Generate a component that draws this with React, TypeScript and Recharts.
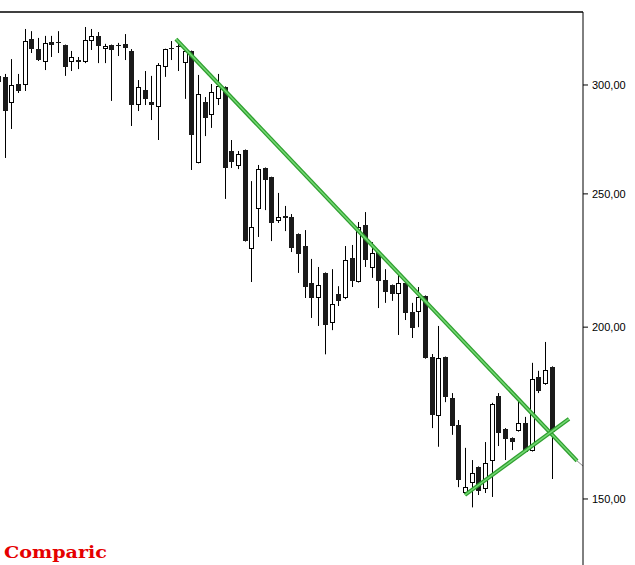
import React from "react";
import { ComposedChart, Bar, XAxis, YAxis, ReferenceLine } from "recharts";

// candle number of the first entry (it is cut off at the left edge)
const firstIndex = -1;

const opens = [
  304.5, 304.1, 291.1, 300.5, 300.0, 324.0, 318.6, 311.7, 322.4, 322.4,
  320.8, 311.7, 312.8, 311.7, 322.9, 325.7, 318.6, 320.8, 320.8, 321.4,
  317.6, 290.1, 297.5, 291.6, 289.1, 309.1, 319.1, 320.3, 311.2, 317.6,
  263.3, 291.6, 285.3, 293.1, 299.0, 268.6, 262.0, 269.1, 227.9, 243.7,
  261.1, 257.1, 238.9, 240.9, 240.5, 233.8, 229.1, 215.3, 210.0, 219.0,
  201.4, 211.4, 210.0, 224.6, 215.7, 237.3, 220.8, 226.8, 216.4, 214.6,
  211.4, 215.3, 205.1, 205.1, 210.7, 190.2, 172.3, 190.2, 177.6, 169.8,
  151.5, 154.0, 158.2, 152.5, 159.8, 178.2, 168.7, 166.1, 168.1, 170.4,
  162.6, 184.0, 181.8, 187.1,
];

const highs = [
  305.5, 305.6, 313.3, 305.6, 329.5, 328.3, 324.6, 325.7, 325.7, 328.3,
  321.0, 317.6, 314.4, 330.6, 329.5, 327.8, 321.4, 321.0, 321.9, 326.7,
  318.6, 302.5, 307.1, 304.6, 311.2, 318.8, 322.9, 321.9, 319.1, 317.8,
  305.1, 294.0, 300.5, 305.6, 299.3, 273.6, 268.6, 269.3, 255.4, 262.4,
  261.3, 257.3, 250.4, 245.0, 241.7, 234.0, 235.3, 224.2, 221.2, 219.2,
  220.4, 214.2, 229.1, 229.5, 238.5, 242.5, 230.6, 227.0, 220.4, 214.8,
  218.3, 215.5, 208.3, 213.9, 210.9, 191.2, 200.4, 190.4, 179.1, 171.2,
  163.4, 160.1, 158.4, 165.0, 176.2, 179.1, 168.9, 166.3, 176.7, 172.1,
  188.4, 185.9, 195.1, 187.3,
];

const lows = [
  299.5, 265.5, 278.7, 296.0, 297.0, 316.5, 312.3, 307.6, 314.4, 316.5,
  304.6, 307.1, 308.1, 311.2, 318.1, 311.2, 311.2, 292.1, 314.9, 312.8,
  280.1, 287.2, 290.1, 282.9, 273.6, 304.1, 312.8, 307.1, 293.1, 260.2,
  263.1, 275.4, 279.2, 290.1, 247.9, 261.1, 260.6, 230.8, 215.7, 232.6,
  243.3, 231.0, 238.1, 234.9, 226.8, 219.0, 210.0, 203.1, 200.4, 191.1,
  199.0, 207.2, 209.6, 213.9, 215.5, 221.2, 217.2, 206.5, 208.3, 209.0,
  197.4, 202.4, 196.4, 200.0, 189.7, 168.9, 163.7, 176.4, 167.0, 153.0,
  151.3, 147.9, 151.0, 151.5, 150.5, 163.9, 160.1, 162.8, 167.9, 162.1,
  162.4, 179.1, 181.6, 155.1,
];

const closes = [
  301.5, 287.2, 300.0, 297.0, 322.9, 318.6, 312.8, 321.9, 320.8, 322.2,
  309.1, 314.4, 311.7, 323.5, 325.7, 320.3, 320.3, 318.1, 320.6, 319.1,
  290.1, 299.0, 293.1, 290.1, 310.2, 318.6, 318.6, 320.1, 317.6, 275.9,
  295.5, 283.8, 296.5, 299.5, 261.1, 263.7, 267.2, 231.0, 236.5, 260.6,
  255.9, 238.1, 240.5, 240.1, 228.4, 226.1, 213.9, 210.0, 214.6, 200.7,
  207.9, 209.0, 223.8, 216.1, 236.5, 223.8, 226.4, 216.1, 212.1, 211.4,
  215.3, 204.8, 199.7, 210.4, 189.9, 172.6, 189.9, 177.9, 169.5, 154.8,
  153.0, 156.6, 152.0, 159.3, 175.9, 167.5, 165.9, 165.0, 170.4, 162.3,
  183.4, 179.7, 186.2, 167.8,
];

const yTicks = [150, 200, 250, 300];
const yMin = 134.3;
const yMax = 339.0;

// hand drawn trend lines (candle number, price)
const downTrend = [{ x: 25.7, y: 324.0 }, { x: 85.83, y: 159.9 }];
const downTrendTail = [{ x: 85.83, y: 159.9 }, { x: 86.73, y: 158.5 }];
const upTrend = [{ x: 69.03, y: 151.0 }, { x: 84.63, y: 171.5 }];

const data = opens.map((open, i) => ({
  idx: i + firstIndex,
  open,
  high: highs[i],
  low: lows[i],
  close: closes[i],
  range: [lows[i], highs[i]],
}));

function Candle(props: any) {
  const { x, y, width, height, payload } = props;
  const { open, high, low, close } = payload;
  const top = Math.min(y, y + height);
  const span = Math.abs(height);
  // bar spans low..high on the log axis, so place open/close in log space
  const k = span / (Math.log(high) - Math.log(low));
  const py = (v: number) => top + (Math.log(high) - Math.log(v)) * k;
  const cx = Math.round(x + width / 2);
  const up = close > open;
  const bTop = Math.round(py(Math.max(open, close)));
  const bBot = Math.round(py(Math.min(open, close)));
  const h = Math.max(bBot - bTop, 1);
  return (
    <g>
      <line x1={cx + 0.5} x2={cx + 0.5} y1={top} y2={top + span} stroke="#000" strokeWidth={1} />
      {up ? (
        <rect x={cx - 1.5} y={bTop + 0.5} width={4} height={Math.max(h - 1, 0)} fill="#fff" stroke="#000" strokeWidth={1} />
      ) : (
        <rect x={cx - 2} y={bTop} width={5} height={h} fill="#1a1a1a" />
      )}
    </g>
  );
}

const fmt = (v: number) => v.toFixed(2).replace(".", ",");

export default function App() {
  return (
    <div style={{ position: "absolute", left: 0, top: 0, width: 635, height: 565, background: "#fff" }}>
      <ComposedChart width={635} height={565} data={data} margin={{ top: 12, right: 0, left: 0, bottom: 0 }}>
        <XAxis dataKey="idx" type="number" domain={[-0.675, 86.73]} allowDataOverflow hide />
        <YAxis
          orientation="right"
          scale="log"
          domain={[yMin, yMax]}
          allowDataOverflow
          ticks={yTicks}
          tickFormatter={fmt}
          width={52}
          tickSize={5}
          tickMargin={4}
          stroke="#000"
          axisLine={{ stroke: "#000" }}
          tickLine={{ stroke: "#000" }}
          tick={{ fill: "#000", fontSize: 11, fontFamily: "Liberation Sans", textAnchor: "start" }}
        />
        <ReferenceLine y={yMax} stroke="#000" strokeWidth={1.5} ifOverflow="visible" />
        <Bar dataKey="range" barSize={5} shape={<Candle />} isAnimationActive={false} />
        <ReferenceLine segment={downTrend} stroke="#2f9f2f" strokeWidth={4} ifOverflow="visible" />
        <ReferenceLine segment={downTrend} stroke="#74d774" strokeWidth={1.5} ifOverflow="visible" />
        <ReferenceLine segment={downTrendTail} stroke="#888" strokeWidth={1} ifOverflow="visible" />
        <ReferenceLine segment={upTrend} stroke="#2f9f2f" strokeWidth={4} ifOverflow="visible" />
        <ReferenceLine segment={upTrend} stroke="#74d774" strokeWidth={1.5} ifOverflow="visible" />
      </ComposedChart>
      <svg width={635} height={565} style={{ position: "absolute", left: 0, top: 0, pointerEvents: "none" }}>
        <text
          x={4}
          y={558}
          fill="#e50000"
          fontFamily="DejaVu Serif"
          fontWeight="900"
          fontSize={17}
          textLength={103}
          lengthAdjust="spacingAndGlyphs"
        >
          Comparic
        </text>
      </svg>
    </div>
  );
}
